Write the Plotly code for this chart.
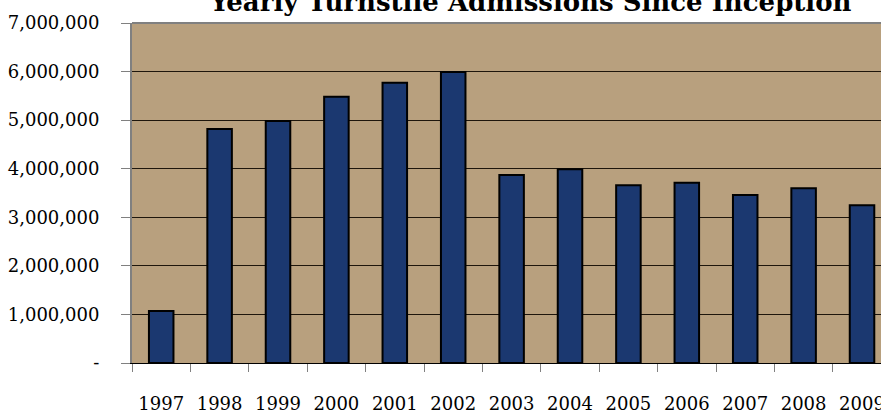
import plotly.graph_objects as go

years = ["1997", "1998", "1999", "2000", "2001", "2002", "2003",
         "2004", "2005", "2006", "2007", "2008", "2009"]
admissions = [1070000, 4820000, 4980000, 5480000, 5770000, 5990000, 3870000,
              3990000, 3660000, 3710000, 3460000, 3600000, 3250000]
y_tick_vals = [0, 1000000, 2000000, 3000000, 4000000, 5000000, 6000000, 7000000]
y_tick_text = ["-", "1,000,000", "2,000,000", "3,000,000", "4,000,000",
               "5,000,000", "6,000,000", "7,000,000"]
title_text = "Yearly Turnstile Admissions Since Inception"

FONT = "DejaVu Serif"

fig = go.Figure()
fig.add_trace(go.Bar(
    x=years,
    y=admissions,
    width=0.42,
    marker=dict(color="#1B3870", line=dict(color="#000000", width=2)),
    hoverinfo="x+y",
))

fig.update_layout(
    width=881, height=414,
    margin=dict(l=132, r=0, t=23, b=51, autoexpand=False),
    paper_bgcolor="white",
    plot_bgcolor="#B8A07E",
    showlegend=False,
    font=dict(family=FONT, size=18, color="#000000"),
    annotations=[dict(
        text="<b>" + title_text + "</b>",
        xref="paper", yref="paper",
        x=(530 - 132) / 749, y=1 + (23 - 19) / 340,
        xanchor="center", yanchor="bottom",
        showarrow=False,
        font=dict(family=FONT, size=26, color="#000000"),
    )],
)

fig.update_xaxes(
    type="category",
    automargin=False,
    range=[-0.5, 12.325],
    tickson="boundaries",
    ticks="outside", ticklen=8, tickwidth=1, tickcolor="#808080",
    ticklabelstandoff=24,
    showgrid=False,
    showline=True, linecolor="#000000", linewidth=1,
    zeroline=False,
    tickfont=dict(family=FONT, size=18),
)

fig.update_yaxes(
    automargin=False,
    range=[0, 7000000],
    tickmode="array",
    tickvals=y_tick_vals,
    ticktext=y_tick_text,
    ticks="outside", ticklen=9, tickwidth=1, tickcolor="#808080",
    ticklabelstandoff=18,
    showgrid=True, gridcolor="#1E160C", gridwidth=1,
    showline=True, linecolor="#808080", linewidth=2,
    zeroline=False,
    tickfont=dict(family=FONT, size=18),
)

# gray top border of plot area
fig.add_shape(type="line", xref="paper", yref="paper",
              x0=0, x1=1, y0=1, y1=1,
              line=dict(color="#808080", width=2))

# remove the default page margin so the figure fills the window exactly
fig.write_html(
    "out.html",
    config={"displayModeBar": False},
    post_script="document.body.style.margin='0';document.body.style.overflow='hidden';",
)
